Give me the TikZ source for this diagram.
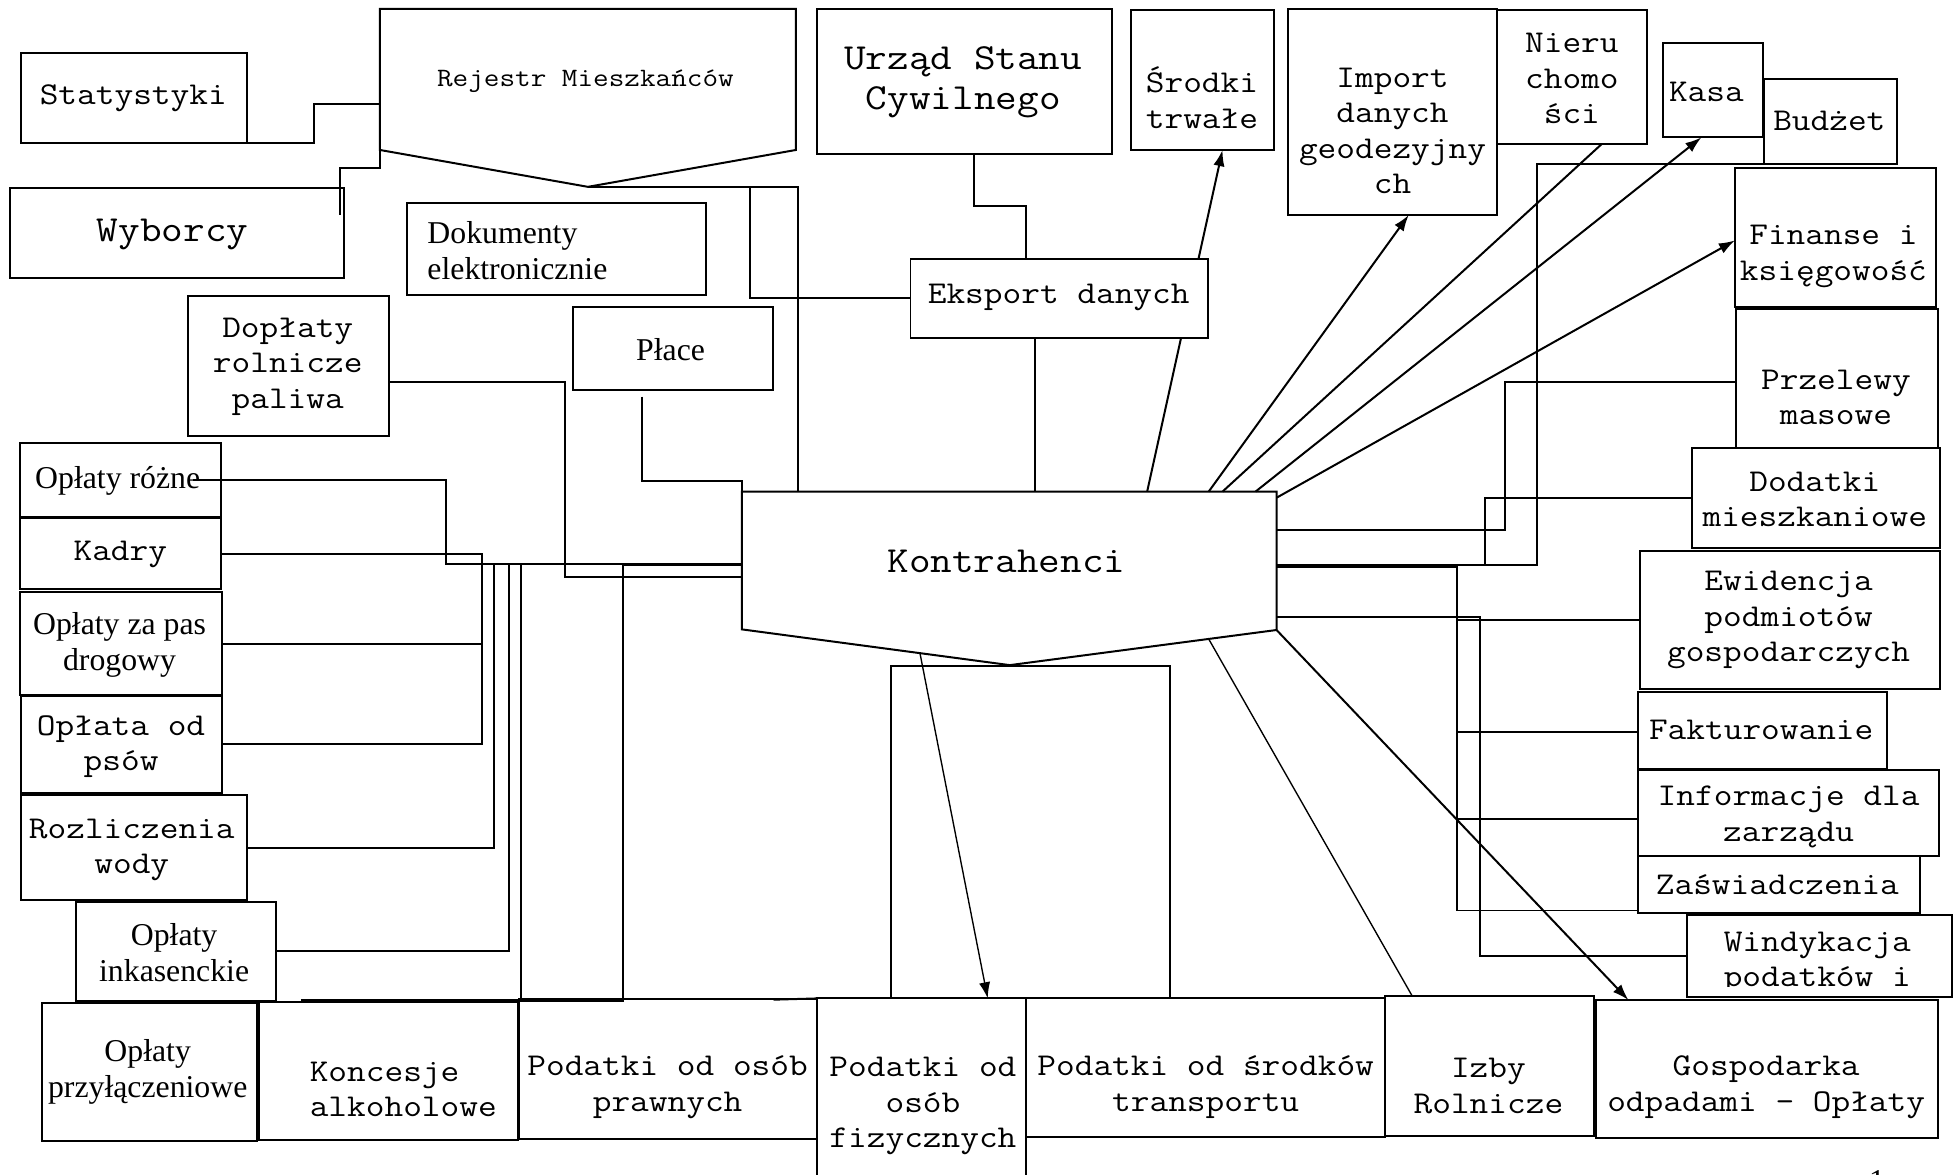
\documentclass[tikz,border=0pt]{standalone}
\usepackage{fontspec}
\setmainfont{Liberation Serif}
\setmonofont{Latin Modern Mono}[FakeStretch=1.143]
\usetikzlibrary{arrows.meta,fit}
\tikzset{
  box/.style={draw, line width=1.6pt, inner sep=0pt, outer sep=0pt, rectangle},
  conn/.style={line width=1.6pt},
  fine/.style={line width=1.1pt},
  tip/.style={-{Latex[length=13pt,width=9pt]}},
  mono/.style={font=\ttfamily\fontsize{25.5}{28.5}\selectfont, align=center, inner sep=0pt, yshift=-2pt},
  monobig/.style={font=\ttfamily\fontsize{29.5}{32}\selectfont, align=center, inner sep=0pt, yshift=-2pt},
  monosmall/.style={font=\ttfamily\fontsize{21.3}{24}\selectfont, align=center, inner sep=0pt, yshift=-1pt},
  serif/.style={font=\rmfamily\fontsize{25.5}{29}\selectfont, align=center, inner sep=0pt},
}
\begin{document}
\begin{tikzpicture}[x=1pt,y=-1pt,line join=miter]
\clip (0,0) rectangle (1568,943);

% ---- boxes ----
\node[box, fit={(17,42.5) (198,115)}] (statystyki) {};
\node[box, fit={(8.4,151) (276,223)}] (wyborcy) {};
\node[box, fit={(327,163) (567,237)}] (dokumenty) {};
\node[box, fit={(656,7.2) (893,124)}] (urzad) {};
\node[box, fit={(908,8) (1023,120.4)}] (srodki) {};
\node[box, fit={(1033.7,7.2) (1202,172.6)}] (importg) {};
\node[box, fit={(1202,8) (1322,115.6)}] (nieruch) {};
\node[box, fit={(1335.5,34.8) (1415.8,110.3)}] (kasa) {};
\node[box, fit={(1416.3,63.4) (1523.3,131.7)}] (budzet) {};
\node[box, fit={(1393,134.6) (1554.4,246.2)}] (finanse) {};
\node[box, fit={(151.2,237.7) (312,350)}] (doplaty) {};
\node[box, fit={(459.8,246.2) (620.6,313)}] (place) {};
\node[box, fit={(16,355.4) (177.6,414.8)}] (oplrozne) {};
\node[box, fit={(16,416.2) (177.6,473.2)}] (kadry) {};
\node[box, fit={(16,475) (178,558)}] (pasdrog) {};
\node[box, fit={(16.8,558.8) (178.5,637)}] (psow) {};
\node[box, fit={(16.8,638.3) (198.2,722.6)}] (woda) {};
\node[box, fit={(61,724) (221.7,803.4)}] (inkas) {};
\node[box, fit={(33.6,805) (206.6,916)}] (przyl) {};
\node[box, fit={(208,804.6) (415.7,915.3)}] (koncesje) {};
\node[box, fit={(417,802) (656,914.5)}] (prawne) {};
\node[box, fit={(655.7,801.6) (823.5,960)}] (fizyczne) {};
\node[box, fit={(823.5,801) (1111.7,913)}] (transport) {};
\node[box, fit={(1111.7,800) (1279.8,912)}] (izby) {};
\node[box, fit={(1281,802.9) (1556,914)}] (gospodarka) {};
\node[box, fit={(1394,248) (1555.6,359.4)}] (przelewy) {};
\node[box, fit={(1358.3,360) (1557.6,440)}] (dodatki) {};
\node[box, fit={(1316.7,442) (1557.6,553.4)}] (ewidencja) {};
\node[box, fit={(1315,555.5) (1515,617.4)}] (faktur) {};
\node[box, fit={(1315,618.5) (1557,687)}] (inform) {};
\node[box, fit={(1315.4,687) (1541.6,733.3)}] (zaswiad) {};
\node[box, fit={(1354.2,734.6) (1567,800.7)}] (windyk) {};
\node[box, fit={(715,534.4) (939.3,801.6)}] (pedestal) {};

% ---- pentagon shapes ----
\coordinate (r-tl) at (305,7.2);
\coordinate (r-tr) at (639,7.2);
\coordinate (r-br) at (639,120.4);
\coordinate (r-bot) at (472,150);
\coordinate (r-bl) at (305,120.4);
\draw[conn] (r-tl) -- (r-tr) -- (r-br) -- (r-bot) -- (r-bl) -- cycle;

\coordinate (k-tl) at (595.6,394.7);
\coordinate (k-tr) at (1024.9,394.7);
\coordinate (k-br) at (1024.9,505.8);
\coordinate (k-bot) at (810.7,534);
\coordinate (k-bl) at (595.6,505.3);
\draw[conn] (k-tl) -- (k-tr) -- (k-br) -- (k-bot) -- (k-bl) -- cycle;

% ---- texts ----
\node[mono] (t-stat) at (107,77) {Statystyki};
\node[monosmall] (t-rejestr) at (470,64) {Rejestr Mieszkańców};
\node[monobig] (t-wyb) at (138.6,186) {Wyborcy};
\node[serif, align=left, anchor=west] (t-dok) at (343,201.5) {Dokumenty\\elektronicznie};
\node[monobig] (t-urzad) at (773.4,64) {Urząd Stanu\\Cywilnego};
\node[mono] (t-srodki) at (965,76.5) {Środki\\trwałe};
\node[mono] (t-import) at (1118,103) {Import\\danych\\geodezyjny\\ch};
\node[mono] (t-nieru) at (1262,61) {Nieru\\chomo\\ści};
\node[mono] (t-kasa) at (1370,71.7) {Kasa};
\node[mono] (t-budzet) at (1468.7,95) {Budżet};
\node[mono] (t-finanse) at (1472,204) {Finanse i\\księgowość};
\node[mono] (t-doplaty) at (231,292.5) {Dopłaty\\rolnicze\\paliwa};
\node[serif] (t-place) at (538.4,281) {Płace};
\node[monobig] (t-kontr) at (808,449) {Kontrahenci};
\node[serif] (t-rozne) at (94.5,386) {Opłaty różne};
\node[mono] (t-kadry) at (96.6,443) {Kadry};
\node[serif] (t-pas) at (96,517.5) {Opłaty za pas\\drogowy};
\node[mono] (t-psow) at (97.2,597.5) {Opłata od\\psów};
\node[mono] (t-woda) at (105.8,680.5) {Rozliczenia\\wody};
\node[serif] (t-inkas) at (139.8,764.7) {Opłaty\\inkasenckie};
\node[serif] (t-przyl) at (118.6,860.5) {Opłaty\\przyłączeniowe};
\node[mono, align=left, anchor=west] (t-konc) at (248.5,872.5) {Koncesje\\alkoholowe};
\node[mono] (t-prawne) at (536,871) {Podatki od osób\\prawnych};
\node[mono] (t-fiz) at (741,886) {Podatki od\\osób\\fizycznych};
\node[mono] (t-transp) at (968,871) {Podatki od środków\\transportu};
\node[mono] (t-izby) at (1195,870) {Izby\\Rolnicze};
\node[mono] (t-gosp) at (1418,871) {Gospodarka\\odpadami - Opłaty};
\node[mono] (t-przel) at (1474,317) {Przelewy\\masowe};
\node[mono] (t-dodatki) at (1457,399) {Dodatki\\mieszkaniowe};
\node[mono] (t-ewid) at (1436,496) {Ewidencja\\podmiotów\\gospodarczych};
\node[mono] (t-faktur) at (1414,584) {Fakturowanie};
\node[mono] (t-inform) at (1436,654) {Informacje dla\\zarządu};
\node[mono] (t-zasw) at (1427,708) {Zaświadczenia};
\begin{scope}
  \clip (1354.2,734.6) rectangle (1567,792);
  \node[mono] (t-windyk) at (1459,771) {Windykacja\\podatków i};
\end{scope}
\node[serif, anchor=base] (t-page) at (1507,956.6) {1};

% ---- arrow passing behind the export box ----
\draw[conn, tip] (k-tl -| 921,0) -- (srodki.south -| 981.5,0);

\node[box, fill=white, fit={(731,208) (970,271)}] (eksport) {};
\node[mono] (t-eksport) at (850,237) {Eksport danych};

% ---- upper connectors ----
\coordinate (r-l1) at (305,83.5);
\draw[conn] (statystyki.south east) -| (252,83.5) -- (r-l1);
\coordinate (w-in) at (273,173);
\draw[conn] (r-bl) -- (305,135) -| (w-in);
\draw[conn] (r-bot) -| (k-tl -| 641,0);
\coordinate (r-j1) at (602,150);
\draw[conn] (r-j1) |- (eksport.west);
\draw[conn] (urzad.south -| 781.6,0) |- (824,165.4) -- (eksport.north -| 824,0);
\draw[conn] (eksport.south -| 831,0) -- (k-tl -| 831,0);

% ---- fan to the top right ----
\draw[conn, tip] (k-tl -| 970.4,0) -- (importg.south -| 1131,0);
\draw[conn] (k-tl -| 981.5,0) -- (nieruch.south -| 1286,0);
\draw[conn, tip] (k-tl -| 1008,0) -- (kasa.south -| 1366,0);
\draw[conn, tip] (k-tr |- 0,399.6) -- (finanse.west |- 0,193);

% ---- right side ----
\draw[conn] (budzet.south west) -| (1234,454) -- (k-tr |- 0,454);
\draw[conn] (k-tr |- 0,425.5) -| (1208,307) -- (przelewy.west |- 0,307);
\draw[conn] (dodatki.west |- 0,400) -| (1192,454) -- (k-tr |- 0,454);
\draw[conn] (k-tr |- 0,455.6) -| (1170,731) -- (zaswiad.west |- 0,731);
\draw[conn] (ewidencja.west |- 0,497.8) -- (1170,497.8);
\draw[conn] (faktur.west |- 0,587.3) -- (1170,587.3);
\draw[conn] (inform.west |- 0,657.4) -- (1170,657.4);
\draw[conn] (k-tr |- 0,495) -| (1188,767.3) -- (windyk.west |- 0,767.3);

% ---- from the bottom of the central shape ----
\draw[conn, tip] (k-br) -- (gospodarka.north -| 1307.4,0);
\coordinate (k-b2) at (970.4,513);
\draw[fine] (k-b2) -- (izby.north -| 1134,0);
\coordinate (k-b1) at (738.6,524.4);
\draw[fine, tip] (k-b1) -- (fizyczne.north -| 793,0);

% ---- left side ----
\coordinate (p-start) at (515.2,318.5);
\draw[conn] (p-start) |- (595.6,386.5) -- (k-tl);
\draw[conn] (doplaty.east |- 0,307) -| (453.3,463.6) -- (k-tl |- 0,463.6);
\coordinate (o-start) at (155,385);
\draw[conn] (o-start) -| (358.1,452.8) -- (k-tl |- 0,452.8);
\draw[conn] (kadry.east |- 0,444.8) -| (386.7,452.8) -- (k-tl |- 0,452.8);
\draw[conn] (pasdrog.east |- 0,517.3) -| (386.7,452.8);
\draw[conn] (psow.east |- 0,597.6) -| (386.7,452.8);
\draw[conn] (woda.east |- 0,681.1) -| (396.7,452.8);
\draw[conn] (inkas.east |- 0,763.6) -| (408.7,452.8);
\coordinate (c-start) at (241.5,803);
\draw[conn] (c-start) -| (418,452.8);
\coordinate (pr-start) at (405,803.4);
\draw[conn] (pr-start) -| (500,454) -- (k-tl |- 0,454);
\coordinate (f-start) at (621,802.6);
\draw[conn] (f-start) -- (fizyczne.north west);
\end{tikzpicture}
\end{document}
